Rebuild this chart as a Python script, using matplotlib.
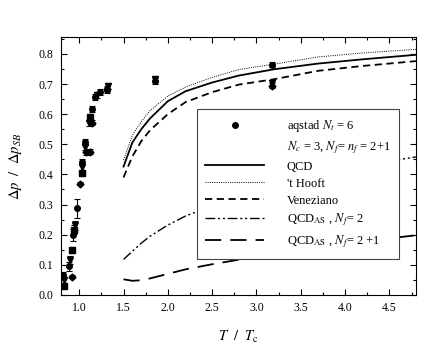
import matplotlib
matplotlib.use("Agg")
import matplotlib.pyplot as plt
from matplotlib.lines import Line2D
from matplotlib.ticker import MultipleLocator

plt.rcParams['font.family'] = ['Liberation Serif', 'DejaVu Serif']
plt.rcParams['mathtext.fontset'] = 'stix'

# lattice data (T/Tc, value, error)
circ_T = [0.82, 0.887, 0.932, 0.97, 1.026, 1.064, 1.14, 1.177, 1.23, 1.31, 1.86, 3.17]
circ_v = [0.066, 0.096, 0.199, 0.288, 0.44, 0.509, 0.617, 0.657, 0.675, 0.679, 0.71, 0.764]
circ_e = [0.01, 0.015, 0.02, 0.032, 0.01, 0.01, 0.01, 0.01, 0.01, 0.01, 0.01, 0.008]

tri_T = [0.83, 0.895, 0.95, 1.026, 1.07, 1.11, 1.2, 1.327, 1.86, 3.17]
tri_v = [0.05, 0.116, 0.232, 0.426, 0.49, 0.57, 0.664, 0.694, 0.716, 0.705]
tri_e = [0.01, 0.012, 0.015, 0.01, 0.01, 0.01, 0.01, 0.01, 0.01, 0.01]

sq_T = [0.83, 0.913, 0.94, 1.03, 1.12]
sq_v = [0.03, 0.15, 0.216, 0.404, 0.592]
sq_e = [0.008, 0.01, 0.015, 0.01, 0.01]

dia_T = [0.913, 1.008, 1.082, 1.12, 1.14, 1.31, 3.17]
dia_v = [0.061, 0.369, 0.473, 0.475, 0.572, 0.685, 0.695]
dia_e = [0.005, 0.005, 0.008, 0.008, 0.008, 0.008, 0.008]

# model curves
T_curve = [1.5, 1.6, 1.7, 1.8, 2.0, 2.2, 2.5, 2.8, 3.2, 3.7, 4.2, 4.8]
qcd = [0.426, 0.506, 0.55, 0.586, 0.643, 0.676, 0.705, 0.728, 0.749, 0.768, 0.782, 0.797]
thooft = [0.448, 0.53, 0.575, 0.612, 0.66, 0.69, 0.722, 0.748, 0.766, 0.79, 0.803, 0.815]
veneziano = [0.39, 0.46, 0.51, 0.547, 0.60, 0.64, 0.673, 0.698, 0.716, 0.744, 0.760, 0.776]
qcd_as2 = [0.118, 0.145, 0.172, 0.195, 0.232, 0.262, 0.295, 0.325, 0.36, 0.395, 0.43, 0.458]
qcd_as21 = [0.052, 0.047, 0.049, 0.055, 0.070, 0.085, 0.102, 0.117, 0.135, 0.158, 0.178, 0.198]

fig = plt.figure(figsize=(4.36, 3.52), dpi=100)
ax = fig.add_axes([0.139, 0.162, 0.815, 0.732])

eb = dict(color='black', ecolor='black', ls='none', ms=4, elinewidth=0.8, capsize=2.5, capthick=0.8)
ax.errorbar(circ_T, circ_v, yerr=circ_e, marker='o', **eb)
ax.errorbar(tri_T, tri_v, yerr=tri_e, marker='v', **eb)
ax.errorbar(sq_T, sq_v, yerr=sq_e, marker='s', **eb)
ax.errorbar(dia_T, dia_v, yerr=dia_e, marker='D', **dict(eb, ms=3.5))

ax.plot(T_curve, qcd, color='black', lw=1.3)
ax.plot(T_curve, thooft, color='black', lw=0.7, ls=(0, (1, 1.3)))
ax.plot(T_curve, veneziano, color='black', lw=1.3, ls=(0, (4, 2.5)))
ax.plot(T_curve, qcd_as2, color='black', lw=1.0, ls=(0, (7, 2, 1.5, 2, 1.5, 2)))
ax.plot(T_curve, qcd_as21, color='black', lw=1.3, ls=(0, (9, 5)))

ax.set_xlim(0.79, 4.8)
ax.set_ylim(0.0, 0.855)
ax.xaxis.set_major_locator(MultipleLocator(0.5))
ax.xaxis.set_minor_locator(MultipleLocator(0.25))
ax.yaxis.set_major_locator(MultipleLocator(0.1))
ax.yaxis.set_minor_locator(MultipleLocator(0.05))
ax.tick_params(which='both', direction='in', top=True, right=True, labelsize=8.5, width=0.8)
ax.tick_params(which='major', length=4, pad=5)
ax.tick_params(which='minor', length=2)
for s in ax.spines.values():
    s.set_linewidth(0.8)

ax.set_xlabel(r'$T\ \ /\ \ T_{\rm c}$', fontsize=10.5, labelpad=11)
ax.set_ylabel(r'$\Delta p\ \ /\ \ \Delta p_{SB}$', fontsize=10.5, labelpad=11)

handles = [
    Line2D([], [], color='black', marker='o', ls='none', ms=4),
    Line2D([], [], color='none'),
    Line2D([], [], color='black', lw=1.3),
    Line2D([], [], color='black', lw=0.7, ls=(0, (1, 1.3))),
    Line2D([], [], color='black', lw=1.3, ls=(0, (4, 2.5))),
    Line2D([], [], color='black', lw=1.0, ls=(0, (7, 2, 1.5, 2, 1.5, 2))),
    Line2D([], [], color='black', lw=1.3, ls=(0, (9, 5))),
]
labels = [
    r'aqstad $N_t$ = 6',
    r'$N_c$ = 3, $N_f$= $n_f$ = 2+1',
    'QCD',
    "'t Hooft",
    'Veneziano',
    r'QCD$_{\rm AS}$ , $N_f$= 2',
    r'QCD$_{\rm AS}$ , $N_f$= 2 +1',
]
leg = ax.legend(handles, labels, loc='lower right', bbox_to_anchor=(0.953, 0.14),
                borderaxespad=0, fontsize=9, handlelength=4.7, handletextpad=1.8,
                labelspacing=0.4, borderpad=0.7, fancybox=False, framealpha=1,
                edgecolor='#444444')
leg.get_frame().set_linewidth(0.8)
leg.set_zorder(5)

fig.savefig('out.png', dpi=100)
